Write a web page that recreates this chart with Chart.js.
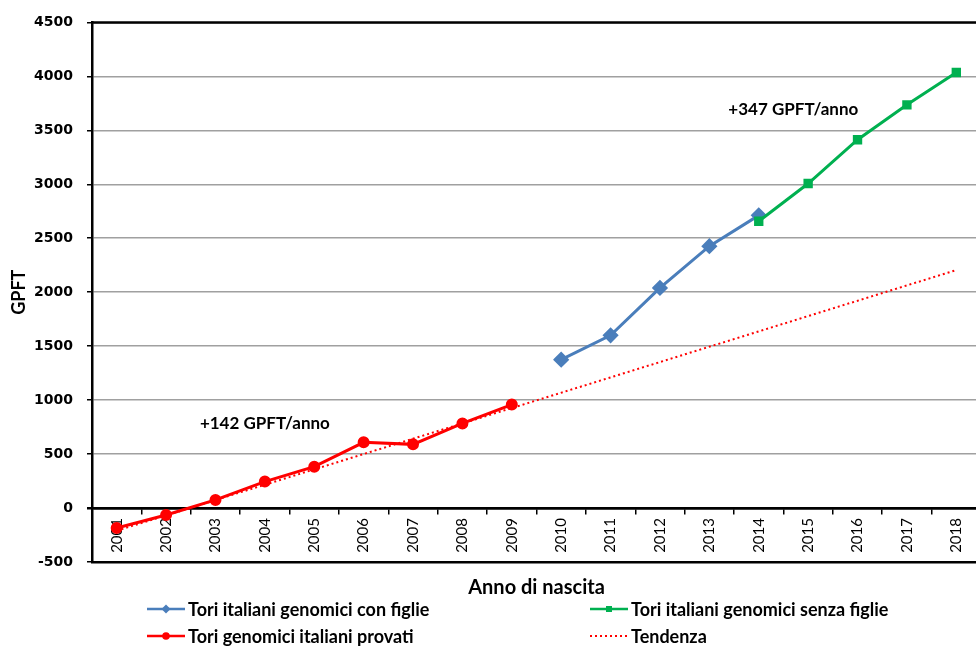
<!DOCTYPE html>
<html>
<head>
<meta charset="utf-8">
<script src="https://cdn.jsdelivr.net/npm/chart.js@4.4.0/dist/chart.umd.min.js"></script>
<style>
  html, body { margin: 0; padding: 0; background: #fff; overflow: hidden; }
  #wrap { width: 990px; height: 646px; }
</style>
</head>
<body>
<div id="wrap"><canvas id="chart" width="990" height="646"></canvas></div>
<script>
const years = ['2001', '2002', '2003', '2004', '2005', '2006', '2007', '2008', '2009',
               '2010', '2011', '2012', '2013', '2014', '2015', '2016', '2017', '2018'];
const provati = [-185, -65, 75, 245, 383, 609, 590, 784, 959,
                 null, null, null, null, null, null, null, null, null];
const conFiglie = [null, null, null, null, null, null, null, null, null,
                   1375, 1600, 2040, 2426, 2712, null, null, null, null];
const senzaFiglie = [null, null, null, null, null, null, null, null, null,
                     null, null, null, null, 2657, 3007, 3413, 3736, 4036];
const tendenza = [-210, null, null, null, null, null, null, null, null,
                  null, null, null, null, null, null, null, null, 2205];
const yTicks = [-500, 0, 500, 1000, 1500, 2000, 2500, 3000, 3500, 4000, 4500];

const BLUE = '#4a7ebb';
const RED = '#ff0000';
const GREEN = '#00b050';
const LABEL_FONT = 'Lato, "Open Sans", sans-serif';

// frame, slope labels and the two-column legend
const extras = {
  id: 'extras',
  afterDraw(chart) {
    const { ctx, chartArea, scales } = chart;
    const { top, left, right } = chartArea;
    ctx.save();
    ctx.strokeStyle = '#000';
    ctx.lineWidth = 2.5;
    ctx.beginPath();
    ctx.moveTo(left, top);
    ctx.lineTo(right, top);
    ctx.stroke();

    // slope labels
    ctx.fillStyle = '#000';
    ctx.font = `bold 17px ${LABEL_FONT}`;
    ctx.textAlign = 'center';
    ctx.textBaseline = 'middle';
    const step = scales.x.getPixelForValue(1) - scales.x.getPixelForValue(0);
    ctx.fillText('+142 GPFT/anno', scales.x.getPixelForValue(3), scales.y.getPixelForValue(780));
    ctx.fillText('+347 GPFT/anno', scales.x.getPixelForValue(13) + 0.7 * step, scales.y.getPixelForValue(3690));

    // legend
    const items = [
      { ds: 0, x: 147, y: 609 },
      { ds: 2, x: 590, y: 609 },
      { ds: 1, x: 147, y: 636 },
      { ds: 3, x: 590, y: 636 },
    ];
    ctx.textAlign = 'left';
    ctx.font = `bold 18px ${LABEL_FONT}`;
    items.forEach(it => {
      const ds = chart.data.datasets[it.ds];
      const cx = it.x + 19;
      ctx.strokeStyle = ds.borderColor;
      ctx.lineWidth = ds.borderDash ? 2 : 2.5;
      ctx.setLineDash(ds.borderDash || []);
      ctx.beginPath();
      ctx.moveTo(it.x, it.y);
      ctx.lineTo(it.x + 38, it.y);
      ctx.stroke();
      ctx.setLineDash([]);
      if (ds.pointRadius > 0) {
        ctx.fillStyle = ds.borderColor;
        ctx.beginPath();
        if (ds.pointStyle === 'rectRot') {
          ctx.moveTo(cx, it.y - 4.5);
          ctx.lineTo(cx + 4.5, it.y);
          ctx.lineTo(cx, it.y + 4.5);
          ctx.lineTo(cx - 4.5, it.y);
          ctx.closePath();
        } else if (ds.pointStyle === 'rect') {
          ctx.rect(cx - 3, it.y - 3, 6, 6);
        } else {
          ctx.arc(cx, it.y, 3.8, 0, Math.PI * 2);
        }
        ctx.fill();
      }
      ctx.fillStyle = '#000';
      ctx.fillText(ds.label, it.x + 41, it.y + 1);
    });
    ctx.restore();
  },
};

new Chart(document.getElementById('chart').getContext('2d'), {
  type: 'line',
  data: {
    labels: years,
    datasets: [
      {
        label: 'Tori italiani genomici con figlie',
        data: conFiglie,
        borderColor: BLUE, backgroundColor: BLUE,
        borderWidth: 3, pointStyle: 'rectRot', pointRadius: 6,
        order: 2,
      },
      {
        label: 'Tori genomici italiani provati',
        data: provati,
        borderColor: RED, backgroundColor: RED,
        borderWidth: 3, pointStyle: 'circle', pointRadius: 4.5,
        order: 1,
      },
      {
        label: 'Tori italiani genomici senza figlie',
        data: senzaFiglie,
        borderColor: GREEN, backgroundColor: GREEN,
        borderWidth: 3, pointStyle: 'rect', pointRadius: 4.5,
        order: 0,
      },
      {
        label: 'Tendenza',
        data: tendenza,
        borderColor: RED, backgroundColor: RED,
        borderWidth: 2, borderDash: [2, 3], pointRadius: 0,
        spanGaps: true,
        order: 3,
      },
    ],
  },
  options: {
    responsive: false,
    animation: false,
    layout: { padding: { top: 20, right: 3, bottom: 46, left: 0 } },
    plugins: {
      legend: { display: false },
      tooltip: { enabled: false },
    },
    scales: {
      x: {
        type: 'category',
        position: { y: 0 },
        offset: true,
        grid: { offset: true, drawOnChartArea: false, tickLength: 5, color: '#000', lineWidth: 1.5 },
        border: { color: '#000', width: 2.5 },
        ticks: {
          autoSkip: false, minRotation: 90, maxRotation: 90, padding: 5,
          color: '#000', font: { family: LABEL_FONT, size: 15 },
        },
      },
      xb: {
        type: 'category',
        position: 'bottom',
        grid: { display: false },
        border: { display: true, color: '#000', width: 2.5 },
        ticks: { display: false },
        title: {
          display: true, text: 'Anno di nascita', color: '#000',
          font: { family: LABEL_FONT, size: 20, weight: 'bold' },
          padding: { top: 0, bottom: 0 },
        },
        afterFit: (s) => { s.height = 38; },
      },
      y: {
        min: -500, max: 4500,
        afterBuildTicks: (s) => { s.ticks = yTicks.map(v => ({ value: v })); },
        afterFit: (s) => { s.width = 92; },
        grid: {
          color: (c) => c.tick && c.tick.value === 0 ? '#000' : '#a0a0a0',
          lineWidth: (c) => c.tick && c.tick.value === 0 ? 2.5 : 1.5,
          tickLength: 5,
          tickColor: '#000',
        },
        border: { color: '#000', width: 2.5 },
        ticks: {
          padding: 14, color: '#000',
          callback: (v) => String(v),
          font: { family: '"DejaVu Sans", sans-serif', size: 14, weight: 'bold' },
        },
        title: {
          display: true, text: 'GPFT', color: '#000',
          font: { family: LABEL_FONT, size: 18, weight: 'bold' },
          padding: { top: 8, bottom: 0 },
        },
      },
    },
  },
  plugins: [extras],
});
</script>
</body>
</html>
